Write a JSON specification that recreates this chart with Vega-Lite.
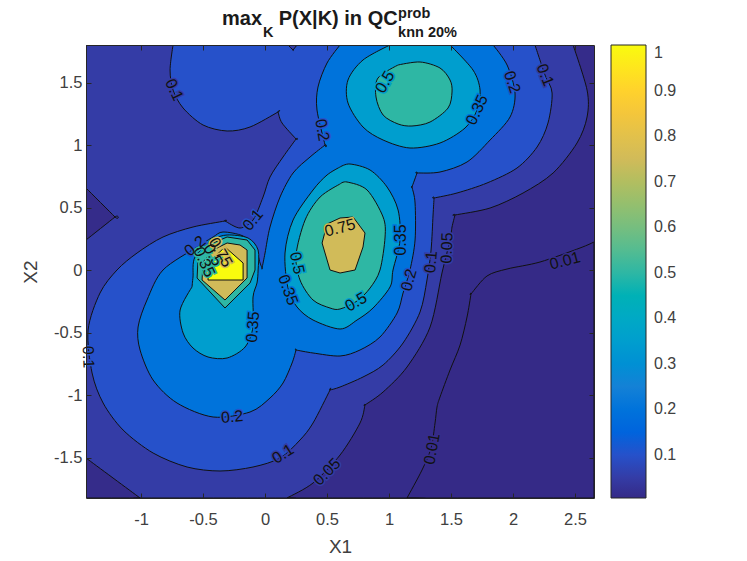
{
"$schema":"https://vega.github.io/schema/vega-lite/v6.json",
"description":"Filled contour plot of max_K P(X|K).",
"autosize":"none",
"width":508,"height":453,
"padding":{"left":86,"top":45,"right":153,"bottom":63},
"background":"white",
"title":{"text":"max\u00a0\u00a0 P(X|K) in QC","anchor":"start","frame":"group","dx":136,"offset":-39,"baseline":"alphabetic","font":"Liberation Sans","fontSize":20,"fontWeight":"bold","color":"#1a1a1a"},
"config":{"view":{"stroke":null},"text":{"font":"Liberation Sans"}},
"datasets":{
"regions":[
{"id":"base","level":0.0057,"i":0,"x":-1.444,"y":1.8},{"id":"base","level":0.0057,"i":0.5,"x":-1.444,"y":1.8},{"id":"base","level":0.0057,"i":1,"x":2.653,"y":1.8},{"id":"base","level":0.0057,"i":1.5,"x":2.653,"y":1.8},{"id":"base","level":0.0057,"i":2,"x":2.653,"y":-1.824},{"id":"base","level":0.0057,"i":2.5,"x":2.653,"y":-1.824},{"id":"base","level":0.0057,"i":3,"x":-1.444,"y":-1.824},{"id":"base","level":0.0057,"i":3.5,"x":-1.444,"y":-1.824},
{"id":"c01","level":0.01,"i":0,"x":2.653,"y":0.224},{"id":"c01","level":0.01,"i":1,"x":2.54,"y":0.176},{"id":"c01","level":0.01,"i":2,"x":2.218,"y":0.064},{"id":"c01","level":0.01,"i":3,"x":1.952,"y":0.008},{"id":"c01","level":0.01,"i":4,"x":1.79,"y":-0.048},{"id":"c01","level":0.01,"i":5,"x":1.661,"y":-0.192},{"id":"c01","level":0.01,"i":5.5,"x":1.661,"y":-0.192},{"id":"c01","level":0.01,"i":6,"x":1.629,"y":-0.376},{"id":"c01","level":0.01,"i":7,"x":1.573,"y":-0.6},{"id":"c01","level":0.01,"i":8,"x":1.492,"y":-0.8},{"id":"c01","level":0.01,"i":9,"x":1.411,"y":-1.016},{"id":"c01","level":0.01,"i":10,"x":1.387,"y":-1.096},{"id":"c01","level":0.01,"i":11,"x":1.371,"y":-1.224},{"id":"c01","level":0.01,"i":12,"x":1.339,"y":-1.424},{"id":"c01","level":0.01,"i":13,"x":1.266,"y":-1.6},{"id":"c01","level":0.01,"i":14,"x":1.145,"y":-1.824},{"id":"c01","level":0.01,"i":14.5,"x":1.145,"y":-1.824},{"id":"c01","level":0.01,"i":15,"x":-1.444,"y":-1.824},{"id":"c01","level":0.01,"i":15.5,"x":-1.444,"y":-1.824},{"id":"c01","level":0.01,"i":16,"x":-1.444,"y":1.8},{"id":"c01","level":0.01,"i":16.5,"x":-1.444,"y":1.8},{"id":"c01","level":0.01,"i":17,"x":2.653,"y":1.8},
{"id":"c05","level":0.05,"i":0,"x":2.484,"y":1.8},{"id":"c05","level":0.05,"i":1,"x":2.597,"y":1.44},{"id":"c05","level":0.05,"i":2,"x":2.597,"y":1.224},{"id":"c05","level":0.05,"i":3,"x":2.516,"y":1.016},{"id":"c05","level":0.05,"i":4,"x":2.323,"y":0.776},{"id":"c05","level":0.05,"i":5,"x":2.081,"y":0.616},{"id":"c05","level":0.05,"i":6,"x":1.815,"y":0.496},{"id":"c05","level":0.05,"i":7,"x":1.532,"y":0.44},{"id":"c05","level":0.05,"i":7.5,"x":1.532,"y":0.44},{"id":"c05","level":0.05,"i":8,"x":1.508,"y":0.344},{"id":"c05","level":0.05,"i":9,"x":1.492,"y":0.24},{"id":"c05","level":0.05,"i":10,"x":1.427,"y":-0.024},{"id":"c05","level":0.05,"i":11,"x":1.331,"y":-0.456},{"id":"c05","level":0.05,"i":12,"x":1.145,"y":-0.776},{"id":"c05","level":0.05,"i":13,"x":0.952,"y":-0.976},{"id":"c05","level":0.05,"i":14,"x":0.806,"y":-1.08},{"id":"c05","level":0.05,"i":14.5,"x":0.806,"y":-1.08},{"id":"c05","level":0.05,"i":15,"x":0.766,"y":-1.224},{"id":"c05","level":0.05,"i":16,"x":0.605,"y":-1.48},{"id":"c05","level":0.05,"i":17,"x":0.387,"y":-1.704},{"id":"c05","level":0.05,"i":18,"x":0.177,"y":-1.824},{"id":"c05","level":0.05,"i":18.5,"x":0.177,"y":-1.824},{"id":"c05","level":0.05,"i":19,"x":-1.008,"y":-1.824},{"id":"c05","level":0.05,"i":19.5,"x":-1.008,"y":-1.824},{"id":"c05","level":0.05,"i":20,"x":-1.444,"y":-1.504},{"id":"c05","level":0.05,"i":20.5,"x":-1.444,"y":-1.504},{"id":"c05","level":0.05,"i":21,"x":-1.444,"y":0.24},{"id":"c05","level":0.05,"i":21.5,"x":-1.444,"y":0.24},{"id":"c05","level":0.05,"i":22,"x":-1.21,"y":0.424},{"id":"c05","level":0.05,"i":22.5,"x":-1.21,"y":0.424},{"id":"c05","level":0.05,"i":23,"x":-1.444,"y":0.656},{"id":"c05","level":0.05,"i":23.5,"x":-1.444,"y":0.656},{"id":"c05","level":0.05,"i":24,"x":-1.444,"y":1.8},
{"id":"c10","level":0.1,"i":0,"x":-0.742,"y":1.8},{"id":"c10","level":0.1,"i":1,"x":-0.766,"y":1.6},{"id":"c10","level":0.1,"i":2,"x":-0.742,"y":1.44},{"id":"c10","level":0.1,"i":3,"x":-0.661,"y":1.296},{"id":"c10","level":0.1,"i":4,"x":-0.5,"y":1.16},{"id":"c10","level":0.1,"i":5,"x":-0.306,"y":1.112},{"id":"c10","level":0.1,"i":6,"x":-0.121,"y":1.144},{"id":"c10","level":0.1,"i":7,"x":0.105,"y":1.264},{"id":"c10","level":0.1,"i":7.5,"x":0.105,"y":1.264},{"id":"c10","level":0.1,"i":8,"x":0.137,"y":1.176},{"id":"c10","level":0.1,"i":9,"x":0.25,"y":1.048},{"id":"c10","level":0.1,"i":9.5,"x":0.25,"y":1.048},{"id":"c10","level":0.1,"i":10,"x":0.145,"y":0.904},{"id":"c10","level":0.1,"i":11,"x":0.04,"y":0.744},{"id":"c10","level":0.1,"i":12,"x":-0.016,"y":0.584},{"id":"c10","level":0.1,"i":13,"x":-0.097,"y":0.4},{"id":"c10","level":0.1,"i":14,"x":-0.202,"y":0.336},{"id":"c10","level":0.1,"i":15,"x":-0.323,"y":0.392},{"id":"c10","level":0.1,"i":15.5,"x":-0.323,"y":0.392},{"id":"c10","level":0.1,"i":16,"x":-0.581,"y":0.344},{"id":"c10","level":0.1,"i":17,"x":-0.823,"y":0.264},{"id":"c10","level":0.1,"i":18,"x":-1.032,"y":0.136},{"id":"c10","level":0.1,"i":19,"x":-1.194,"y":0},{"id":"c10","level":0.1,"i":20,"x":-1.331,"y":-0.184},{"id":"c10","level":0.1,"i":21,"x":-1.427,"y":-0.48},{"id":"c10","level":0.1,"i":22,"x":-1.395,"y":-0.824},{"id":"c10","level":0.1,"i":23,"x":-1.306,"y":-1.064},{"id":"c10","level":0.1,"i":24,"x":-1.145,"y":-1.28},{"id":"c10","level":0.1,"i":25,"x":-0.903,"y":-1.464},{"id":"c10","level":0.1,"i":26,"x":-0.629,"y":-1.576},{"id":"c10","level":0.1,"i":27,"x":-0.363,"y":-1.608},{"id":"c10","level":0.1,"i":28,"x":-0.097,"y":-1.576},{"id":"c10","level":0.1,"i":29,"x":0.121,"y":-1.504},{"id":"c10","level":0.1,"i":30,"x":0.282,"y":-1.36},{"id":"c10","level":0.1,"i":31,"x":0.387,"y":-1.224},{"id":"c10","level":0.1,"i":32,"x":0.524,"y":-0.96},{"id":"c10","level":0.1,"i":32.5,"x":0.524,"y":-0.96},{"id":"c10","level":0.1,"i":33,"x":0.605,"y":-0.936},{"id":"c10","level":0.1,"i":34,"x":0.79,"y":-0.856},{"id":"c10","level":0.1,"i":35,"x":0.952,"y":-0.76},{"id":"c10","level":0.1,"i":36,"x":1.113,"y":-0.584},{"id":"c10","level":0.1,"i":37,"x":1.25,"y":-0.336},{"id":"c10","level":0.1,"i":38,"x":1.306,"y":-0.08},{"id":"c10","level":0.1,"i":39,"x":1.339,"y":0.16},{"id":"c10","level":0.1,"i":40,"x":1.355,"y":0.44},{"id":"c10","level":0.1,"i":41,"x":1.363,"y":0.576},{"id":"c10","level":0.1,"i":41.5,"x":1.363,"y":0.576},{"id":"c10","level":0.1,"i":42,"x":1.548,"y":0.616},{"id":"c10","level":0.1,"i":43,"x":1.79,"y":0.696},{"id":"c10","level":0.1,"i":44,"x":2.032,"y":0.816},{"id":"c10","level":0.1,"i":45,"x":2.194,"y":0.984},{"id":"c10","level":0.1,"i":46,"x":2.282,"y":1.176},{"id":"c10","level":0.1,"i":47,"x":2.315,"y":1.416},{"id":"c10","level":0.1,"i":48,"x":2.258,"y":1.56},{"id":"c10","level":0.1,"i":49,"x":2.177,"y":1.8},
{"id":"notch","level":0.05,"i":0,"x":0.185,"y":1.8},{"id":"notch","level":0.05,"i":0.5,"x":0.185,"y":1.8},{"id":"notch","level":0.05,"i":1,"x":0.226,"y":1.76},{"id":"notch","level":0.05,"i":1.5,"x":0.226,"y":1.76},{"id":"notch","level":0.05,"i":2,"x":0.258,"y":1.8},
{"id":"c20","level":0.2,"i":0,"x":0.605,"y":1.8},{"id":"c20","level":0.2,"i":1,"x":0.5,"y":1.656},{"id":"c20","level":0.2,"i":2,"x":0.427,"y":1.464},{"id":"c20","level":0.2,"i":3,"x":0.419,"y":1.28},{"id":"c20","level":0.2,"i":4,"x":0.484,"y":1.0},{"id":"c20","level":0.2,"i":4.5,"x":0.484,"y":1.0},{"id":"c20","level":0.2,"i":5,"x":0.363,"y":0.904},{"id":"c20","level":0.2,"i":6,"x":0.226,"y":0.776},{"id":"c20","level":0.2,"i":7,"x":0.121,"y":0.584},{"id":"c20","level":0.2,"i":8,"x":0.04,"y":0.344},{"id":"c20","level":0.2,"i":9,"x":0,"y":0.136},{"id":"c20","level":0.2,"i":10,"x":-0.024,"y":0.016},{"id":"c20","level":0.2,"i":10.5,"x":-0.024,"y":0.016},{"id":"c20","level":0.2,"i":11,"x":-0.04,"y":0.056},{"id":"c20","level":0.2,"i":12,"x":-0.081,"y":0.184},{"id":"c20","level":0.2,"i":13,"x":-0.177,"y":0.272},{"id":"c20","level":0.2,"i":14,"x":-0.339,"y":0.304},{"id":"c20","level":0.2,"i":15,"x":-0.419,"y":0.264},{"id":"c20","level":0.2,"i":16,"x":-0.548,"y":0.184},{"id":"c20","level":0.2,"i":17,"x":-0.823,"y":0},{"id":"c20","level":0.2,"i":18,"x":-0.952,"y":-0.24},{"id":"c20","level":0.2,"i":19,"x":-1.024,"y":-0.456},{"id":"c20","level":0.2,"i":20,"x":-1.008,"y":-0.64},{"id":"c20","level":0.2,"i":21,"x":-0.903,"y":-0.88},{"id":"c20","level":0.2,"i":22,"x":-0.71,"y":-1.064},{"id":"c20","level":0.2,"i":23,"x":-0.419,"y":-1.176},{"id":"c20","level":0.2,"i":24,"x":-0.121,"y":-1.136},{"id":"c20","level":0.2,"i":25,"x":0.04,"y":-1.024},{"id":"c20","level":0.2,"i":26,"x":0.145,"y":-0.904},{"id":"c20","level":0.2,"i":27,"x":0.218,"y":-0.744},{"id":"c20","level":0.2,"i":28,"x":0.25,"y":-0.64},{"id":"c20","level":0.2,"i":28.5,"x":0.25,"y":-0.64},{"id":"c20","level":0.2,"i":29,"x":0.387,"y":-0.664},{"id":"c20","level":0.2,"i":30,"x":0.605,"y":-0.688},{"id":"c20","level":0.2,"i":31,"x":0.766,"y":-0.64},{"id":"c20","level":0.2,"i":32,"x":0.927,"y":-0.536},{"id":"c20","level":0.2,"i":33,"x":1.065,"y":-0.344},{"id":"c20","level":0.2,"i":34,"x":1.113,"y":-0.184},{"id":"c20","level":0.2,"i":35,"x":1.169,"y":0},{"id":"c20","level":0.2,"i":36,"x":1.21,"y":0.24},{"id":"c20","level":0.2,"i":37,"x":1.21,"y":0.536},{"id":"c20","level":0.2,"i":38,"x":1.185,"y":0.664},{"id":"c20","level":0.2,"i":38.5,"x":1.185,"y":0.664},{"id":"c20","level":0.2,"i":39,"x":1.226,"y":0.776},{"id":"c20","level":0.2,"i":39.5,"x":1.226,"y":0.776},{"id":"c20","level":0.2,"i":40,"x":1.411,"y":0.784},{"id":"c20","level":0.2,"i":41,"x":1.629,"y":0.864},{"id":"c20","level":0.2,"i":42,"x":1.815,"y":1.04},{"id":"c20","level":0.2,"i":43,"x":1.976,"y":1.224},{"id":"c20","level":0.2,"i":44,"x":2.016,"y":1.416},{"id":"c20","level":0.2,"i":45,"x":1.952,"y":1.64},{"id":"c20","level":0.2,"i":46,"x":1.839,"y":1.8},
{"id":"c35top","level":0.35,"i":0,"x":1.008,"y":1.8},{"id":"c35top","level":0.35,"i":1,"x":0.79,"y":1.68},{"id":"c35top","level":0.35,"i":2,"x":0.669,"y":1.52},{"id":"c35top","level":0.35,"i":3,"x":0.669,"y":1.336},{"id":"c35top","level":0.35,"i":4,"x":0.79,"y":1.144},{"id":"c35top","level":0.35,"i":5,"x":0.952,"y":1.04},{"id":"c35top","level":0.35,"i":6,"x":1.169,"y":0.976},{"id":"c35top","level":0.35,"i":7,"x":1.411,"y":1.016},{"id":"c35top","level":0.35,"i":8,"x":1.613,"y":1.136},{"id":"c35top","level":0.35,"i":9,"x":1.71,"y":1.28},{"id":"c35top","level":0.35,"i":10,"x":1.734,"y":1.44},{"id":"c35top","level":0.35,"i":11,"x":1.677,"y":1.6},{"id":"c35top","level":0.35,"i":12,"x":1.492,"y":1.8},
{"id":"c35mid","level":0.35,"i":0,"x":0.605,"y":0.824},{"id":"c35mid","level":0.35,"i":1,"x":0.685,"y":0.848},{"id":"c35mid","level":0.35,"i":2,"x":0.847,"y":0.8},{"id":"c35mid","level":0.35,"i":3,"x":0.984,"y":0.664},{"id":"c35mid","level":0.35,"i":4,"x":1.073,"y":0.48},{"id":"c35mid","level":0.35,"i":5,"x":1.089,"y":0.24},{"id":"c35mid","level":0.35,"i":6,"x":1.032,"y":0},{"id":"c35mid","level":0.35,"i":7,"x":1.008,"y":-0.136},{"id":"c35mid","level":0.35,"i":8,"x":0.871,"y":-0.304},{"id":"c35mid","level":0.35,"i":9,"x":0.742,"y":-0.4},{"id":"c35mid","level":0.35,"i":10,"x":0.605,"y":-0.472},{"id":"c35mid","level":0.35,"i":11,"x":0.387,"y":-0.4},{"id":"c35mid","level":0.35,"i":12,"x":0.258,"y":-0.296},{"id":"c35mid","level":0.35,"i":13,"x":0.185,"y":-0.144},{"id":"c35mid","level":0.35,"i":14,"x":0.161,"y":0.136},{"id":"c35mid","level":0.35,"i":15,"x":0.226,"y":0.4},{"id":"c35mid","level":0.35,"i":16,"x":0.387,"y":0.64},{"id":"c35mid","level":0.35,"i":17,"x":0.5,"y":0.76},{"id":"c35mid","level":0.35,"i":18,"x":0.605,"y":0.824},
{"id":"c35low","level":0.35,"i":0,"x":-0.589,"y":-0.136},{"id":"c35low","level":0.35,"i":1,"x":-0.685,"y":-0.32},{"id":"c35low","level":0.35,"i":2,"x":-0.661,"y":-0.504},{"id":"c35low","level":0.35,"i":3,"x":-0.581,"y":-0.624},{"id":"c35low","level":0.35,"i":4,"x":-0.46,"y":-0.696},{"id":"c35low","level":0.35,"i":5,"x":-0.306,"y":-0.704},{"id":"c35low","level":0.35,"i":6,"x":-0.161,"y":-0.616},{"id":"c35low","level":0.35,"i":7,"x":-0.097,"y":-0.456},{"id":"c35low","level":0.35,"i":8,"x":-0.097,"y":-0.216},{"id":"c35low","level":0.35,"i":9,"x":-0.065,"y":-0.104},{"id":"c35low","level":0.35,"i":10,"x":-0.056,"y":0},{"id":"c35low","level":0.35,"i":11,"x":-0.056,"y":0.16},{"id":"c35low","level":0.35,"i":12,"x":-0.137,"y":0.256},{"id":"c35low","level":0.35,"i":13,"x":-0.306,"y":0.28},{"id":"c35low","level":0.35,"i":14,"x":-0.419,"y":0.24},{"id":"c35low","level":0.35,"i":15,"x":-0.565,"y":0.104},{"id":"c35low","level":0.35,"i":16,"x":-0.581,"y":-0.056},{"id":"c35low","level":0.35,"i":17,"x":-0.589,"y":-0.136},
{"id":"c50top","level":0.5,"i":0,"x":1.073,"y":1.64},{"id":"c50top","level":0.5,"i":1,"x":1.25,"y":1.664},{"id":"c50top","level":0.5,"i":2,"x":1.411,"y":1.616},{"id":"c50top","level":0.5,"i":3,"x":1.492,"y":1.52},{"id":"c50top","level":0.5,"i":4,"x":1.508,"y":1.424},{"id":"c50top","level":0.5,"i":5,"x":1.476,"y":1.296},{"id":"c50top","level":0.5,"i":6,"x":1.331,"y":1.184},{"id":"c50top","level":0.5,"i":7,"x":1.185,"y":1.152},{"id":"c50top","level":0.5,"i":8,"x":1.073,"y":1.168},{"id":"c50top","level":0.5,"i":9,"x":0.952,"y":1.24},{"id":"c50top","level":0.5,"i":10,"x":0.895,"y":1.384},{"id":"c50top","level":0.5,"i":11,"x":0.911,"y":1.536},{"id":"c50top","level":0.5,"i":12,"x":1.073,"y":1.64},
{"id":"c50mid","level":0.5,"i":0,"x":0.605,"y":0.688},{"id":"c50mid","level":0.5,"i":1,"x":0.661,"y":0.704},{"id":"c50mid","level":0.5,"i":2,"x":0.823,"y":0.64},{"id":"c50mid","level":0.5,"i":3,"x":0.952,"y":0.424},{"id":"c50mid","level":0.5,"i":4,"x":0.968,"y":0.264},{"id":"c50mid","level":0.5,"i":5,"x":0.927,"y":0},{"id":"c50mid","level":0.5,"i":6,"x":0.847,"y":-0.144},{"id":"c50mid","level":0.5,"i":7,"x":0.742,"y":-0.248},{"id":"c50mid","level":0.5,"i":8,"x":0.605,"y":-0.312},{"id":"c50mid","level":0.5,"i":9,"x":0.524,"y":-0.304},{"id":"c50mid","level":0.5,"i":10,"x":0.387,"y":-0.24},{"id":"c50mid","level":0.5,"i":11,"x":0.282,"y":-0.08},{"id":"c50mid","level":0.5,"i":12,"x":0.25,"y":0.12},{"id":"c50mid","level":0.5,"i":13,"x":0.323,"y":0.4},{"id":"c50mid","level":0.5,"i":14,"x":0.444,"y":0.584},{"id":"c50mid","level":0.5,"i":15,"x":0.605,"y":0.688},
{"id":"c50low","level":0.5,"i":0,"x":-0.54,"y":0.104},{"id":"c50low","level":0.5,"i":1,"x":-0.548,"y":-0.064},{"id":"c50low","level":0.5,"i":2,"x":-0.323,"y":-0.304},{"id":"c50low","level":0.5,"i":3,"x":-0.121,"y":-0.104},{"id":"c50low","level":0.5,"i":4,"x":-0.081,"y":0},{"id":"c50low","level":0.5,"i":5,"x":-0.081,"y":0.16},{"id":"c50low","level":0.5,"i":6,"x":-0.145,"y":0.24},{"id":"c50low","level":0.5,"i":7,"x":-0.306,"y":0.264},{"id":"c50low","level":0.5,"i":8,"x":-0.419,"y":0.216},{"id":"c50low","level":0.5,"i":9,"x":-0.54,"y":0.104},
{"id":"c75mid","level":0.75,"i":0,"x":0.605,"y":0.416},{"id":"c75mid","level":0.75,"i":1,"x":0.71,"y":0.424},{"id":"c75mid","level":0.75,"i":2,"x":0.806,"y":0.296},{"id":"c75mid","level":0.75,"i":3,"x":0.79,"y":0.184},{"id":"c75mid","level":0.75,"i":4,"x":0.726,"y":0},{"id":"c75mid","level":0.75,"i":5,"x":0.605,"y":-0.024},{"id":"c75mid","level":0.75,"i":6,"x":0.524,"y":0},{"id":"c75mid","level":0.75,"i":7,"x":0.46,"y":0.216},{"id":"c75mid","level":0.75,"i":8,"x":0.5,"y":0.368},{"id":"c75mid","level":0.75,"i":9,"x":0.605,"y":0.416},
{"id":"c75low","level":0.75,"i":0,"x":-0.5,"y":0.064},{"id":"c75low","level":0.75,"i":1,"x":-0.508,"y":-0.08},{"id":"c75low","level":0.75,"i":2,"x":-0.323,"y":-0.24},{"id":"c75low","level":0.75,"i":3,"x":-0.145,"y":-0.064},{"id":"c75low","level":0.75,"i":4,"x":-0.145,"y":0.16},{"id":"c75low","level":0.75,"i":5,"x":-0.202,"y":0.2},{"id":"c75low","level":0.75,"i":6,"x":-0.306,"y":0.216},{"id":"c75low","level":0.75,"i":7,"x":-0.419,"y":0.16},{"id":"c75low","level":0.75,"i":8,"x":-0.5,"y":0.064},
{"id":"peak","level":1,"i":0,"x":-0.46,"y":-0.08},{"id":"peak","level":1,"i":1,"x":-0.177,"y":-0.08},{"id":"peak","level":1,"i":2,"x":-0.177,"y":0.056},{"id":"peak","level":1,"i":3,"x":-0.323,"y":0.184},{"id":"peak","level":1,"i":4,"x":-0.452,"y":0.064},{"id":"peak","level":1,"i":5,"x":-0.46,"y":-0.08}
],
"labels":[
{"t":"0.1","x":-0.734,"y":1.44,"slope":65,"band":0.05},
{"t":"0.5","x":0.968,"y":1.504,"slope":-60,"band":0.35},
{"t":"0.2","x":0.46,"y":1.12,"slope":80,"band":0.1},
{"t":"0.2","x":1.992,"y":1.504,"slope":72,"band":0.1},
{"t":"0.1","x":2.258,"y":1.56,"slope":68,"band":0.05},
{"t":"0.35","x":1.71,"y":1.28,"slope":-65,"band":0.2},
{"t":"0.75","x":0.605,"y":0.336,"slope":-15,"band":0.75},
{"t":"0.1","x":-0.097,"y":0.4,"slope":-50,"band":0.1},
{"t":"0.2","x":-0.565,"y":0.192,"slope":-40,"band":0.1},
{"t":"0.35","x":1.097,"y":0.24,"slope":-90,"band":0.2},
{"t":"0.5","x":0.258,"y":0.056,"slope":78,"band":0.35},
{"t":"0.35","x":0.185,"y":-0.16,"slope":70,"band":0.2},
{"t":"0.5","x":0.734,"y":-0.256,"slope":-30,"band":0.35},
{"t":"0.2","x":1.161,"y":-0.08,"slope":-75,"band":0.1},
{"t":"0.1","x":1.339,"y":0.064,"slope":-85,"band":0.05},
{"t":"0.05","x":1.468,"y":0.176,"slope":-88,"band":0.05},
{"t":"0.01","x":2.419,"y":0.072,"slope":-15,"band":0.01},
{"t":"0.35","x":-0.097,"y":-0.456,"slope":-85,"band":0.2},
{"t":"0.1","x":-1.427,"y":-0.696,"slope":88,"band":0.1},
{"t":"0.2","x":-0.266,"y":-1.176,"slope":-5,"band":0.1},
{"t":"0.1","x":0.145,"y":-1.472,"slope":-32,"band":0.05},
{"t":"0.05","x":0.5,"y":-1.616,"slope":-45,"band":0.05},
{"t":"0.01","x":1.347,"y":-1.432,"slope":-80,"band":0.01},
{"t":"0.35","x":-0.492,"y":0.064,"slope":65,"band":0.5},
{"t":"0.5","x":-0.42,"y":0.12,"slope":60,"band":0.5},
{"t":"0.75","x":-0.36,"y":0.14,"slope":60,"band":0.75}
],
"sub":[
{"t":"K","x":-0.016,"y":1.864},
{"t":"knn 20%","x":1.073,"y":1.864},
{"t":"prob","x":1.073,"y":2.016}
]
},
"layer":[
{"data":{"name":"regions"},
"transform":[{"filter":"indexof(['c50low','c75low','c75mid','peak'], datum.id) < 0"}],
"mark":{"type":"line","stroke":"#111111","strokeWidth":1,"interpolate":"cardinal","tension":0.1,"clip":true},
"encoding":{
"x":{"field":"x","type":"quantitative","scale":{"domain":[-1.444,2.653],"nice":false},
"axis":{"orient":"bottom","values":[-1,-0.5,0,0.5,1,1.5,2,2.5],"labelExpr":"'' + datum.value","grid":false,"title":"X1","zindex":1,"tickSize":-5,"tickColor":"#262626","domainColor":"#262626","labelColor":"#404040","labelFont":"Liberation Sans","labelFontSize":16.5,"labelPadding":18,"titleFont":"Liberation Sans","titleFontSize":19,"titleFontWeight":"normal","titleColor":"#404040","titlePadding":10}},
"y":{"field":"y","type":"quantitative","scale":{"domain":[-1.824,1.8],"nice":false},
"axis":{"orient":"left","values":[-1.5,-1,-0.5,0,0.5,1,1.5],"labelExpr":"'' + datum.value","grid":false,"title":"X2","zindex":1,"tickSize":-5,"tickColor":"#262626","domainColor":"#262626","labelColor":"#404040","labelFont":"Liberation Sans","labelFontSize":16.5,"labelPadding":9,"titleFont":"Liberation Sans","titleFontSize":19,"titleFontWeight":"normal","titleColor":"#404040","titlePadding":13}},
"order":{"field":"i","type":"quantitative"},
"detail":{"field":"id"},
"fill":{"field":"level","type":"quantitative","scale":{"domain":[0.0057,0.125,0.25,0.375,0.5,0.625,0.75,0.875,1],"range":["#352a87","#0f5cdd","#1481d6","#06a4ca","#2eb7a4","#87bf77","#d1bb59","#fec832","#f9fb0e"]},
"legend":{"type":"gradient","orient":"none","legendX":525,"legendY":0,"title":null,"gradientLength":453,"gradientThickness":35,"values":[0.1,0.2,0.3,0.4,0.5,0.6,0.7,0.8,0.9,1],"labelExpr":"'' + datum.value","labelFont":"Liberation Sans","labelFontSize":16,"labelColor":"#404040","labelOffset":8,"labelBaseline":"middle","gradientStrokeColor":"#262626","gradientStrokeWidth":1}}
}},
{"data":{"name":"regions"},
"transform":[{"filter":"indexof(['c50low','c75low','c75mid','peak'], datum.id) >= 0"}],
"mark":{"type":"line","stroke":"#111111","strokeWidth":1},
"encoding":{
"x":{"field":"x","type":"quantitative","axis":null},
"y":{"field":"y","type":"quantitative","axis":null},
"order":{"field":"i","type":"quantitative"},
"detail":{"field":"id"},
"fill":{"field":"level","type":"quantitative","legend":null,"scale":{"domain":[0.0057,0.125,0.25,0.375,0.5,0.625,0.75,0.875,1],"range":["#352a87","#0f5cdd","#1481d6","#06a4ca","#2eb7a4","#87bf77","#d1bb59","#fec832","#f9fb0e"]}}
}},
{"data":{"name":"labels"},
"mark":{"type":"text","strokeWidth":3,"fontSize":16,"align":"center","baseline":"middle","clip":true},
"encoding":{
"x":{"field":"x","type":"quantitative","axis":{"orient":"top","values":[-1,-0.5,0,0.5,1,1.5,2,2.5],"labels":false,"domain":true,"domainColor":"#262626","grid":false,"title":null,"zindex":1,"tickSize":-5,"tickColor":"#262626"}},
"y":{"field":"y","type":"quantitative","axis":{"orient":"right","values":[-1.5,-1,-0.5,0,0.5,1,1.5],"labels":false,"domain":true,"domainColor":"#262626","grid":false,"title":null,"zindex":1,"tickSize":-5,"tickColor":"#262626"}},
"text":{"field":"t"},
"angle":{"field":"slope","type":"quantitative","scale":null},
"stroke":{"field":"band","type":"quantitative","legend":null,"scale":{"domain":[0.0057,0.125,0.25,0.375,0.5,0.625,0.75,0.875,1],"range":["#352a87","#0f5cdd","#1481d6","#06a4ca","#2eb7a4","#87bf77","#d1bb59","#fec832","#f9fb0e"]}}
}},
{"data":{"name":"labels"},
"mark":{"type":"text","fontSize":16,"align":"center","baseline":"middle","color":"#111111"},
"encoding":{
"x":{"field":"x","type":"quantitative","axis":null},
"y":{"field":"y","type":"quantitative","axis":null},
"text":{"field":"t"},
"angle":{"field":"slope","type":"quantitative","scale":null}
}},
{"data":{"name":"sub"},
"mark":{"type":"text","fontSize":14.5,"fontWeight":"bold","align":"left","baseline":"alphabetic","color":"#1a1a1a"},
"encoding":{
"x":{"field":"x","type":"quantitative","axis":null},
"y":{"field":"y","type":"quantitative","axis":null},
"text":{"field":"t"}
}}
],
"resolve":{"axis":{"x":"independent","y":"independent"},"scale":{"fill":"independent"},"legend":{"fill":"independent"}}
}
